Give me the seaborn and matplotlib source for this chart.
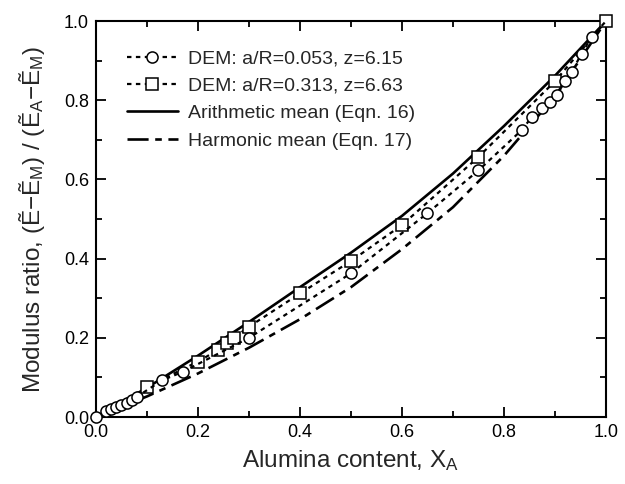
import matplotlib
matplotlib.use("Agg")
import matplotlib.pyplot as plt
import seaborn as sns
from matplotlib.ticker import MultipleLocator

# DEM: a/R = 0.053, z = 6.15 (circles)
x_dem1 = [0.0, 0.02, 0.03, 0.04, 0.05, 0.06, 0.07, 0.08, 0.13, 0.17, 0.30, 0.50,
          0.65, 0.75, 0.835, 0.854, 0.874, 0.89, 0.904, 0.92, 0.933, 0.952, 0.972, 1.0]
y_dem1 = [0.0, 0.014, 0.020, 0.025, 0.030, 0.036, 0.043, 0.051, 0.093, 0.114, 0.200, 0.363,
          0.515, 0.623, 0.725, 0.757, 0.780, 0.796, 0.813, 0.848, 0.872, 0.918, 0.960, 1.0]

# DEM: a/R = 0.313, z = 6.63 (squares)
x_dem2 = [0.0, 0.10, 0.20, 0.24, 0.256, 0.27, 0.30, 0.40, 0.50, 0.60, 0.75, 0.90, 1.0]
y_dem2 = [0.0, 0.076, 0.140, 0.170, 0.186, 0.200, 0.228, 0.312, 0.394, 0.485, 0.657, 0.848, 1.0]

# Arithmetic (Eqn. 16) and harmonic (Eqn. 17) means
x_mean = [0.0, 0.1, 0.2, 0.3, 0.4, 0.5, 0.6, 0.7, 0.8, 0.9, 1.0]
y_arith = [0.0, 0.074, 0.155, 0.240, 0.328, 0.415, 0.508, 0.615, 0.735, 0.862, 1.0]
y_harm = [0.0, 0.052, 0.110, 0.175, 0.247, 0.328, 0.424, 0.530, 0.660, 0.810, 1.0]

labels = ["DEM: a/R=0.053, z=6.15", "DEM: a/R=0.313, z=6.63",
          "Arithmetic mean (Eqn. 16)", "Harmonic mean (Eqn. 17)"]
xticks = [0.0, 0.2, 0.4, 0.6, 0.8, 1.0]

sns.set_style("ticks")
plt.rcParams['font.family'] = ['Liberation Sans', 'DejaVu Sans']
plt.rcParams['mathtext.fontset'] = 'custom'
plt.rcParams['mathtext.rm'] = 'Liberation Sans'
plt.rcParams['mathtext.it'] = 'Liberation Sans'

fig = plt.figure(figsize=(6.25, 4.84), dpi=100)
ax = fig.add_axes([0.1536, 0.1384, 0.816, 0.818])

sns.lineplot(x=x_mean, y=y_arith, ax=ax, sort=False, estimator=None, color='black',
             lw=1.9, label=labels[2], zorder=2)
sns.lineplot(x=x_mean, y=y_harm, ax=ax, sort=False, estimator=None, color='black',
             lw=1.9, linestyle=(0, (8, 2.5, 2.5, 2.5)), label=labels[3], zorder=2)
sns.lineplot(x=x_dem2, y=y_dem2, ax=ax, sort=False, estimator=None, color='black',
             lw=1.6, linestyle=(0, (2, 2)), marker='s', markersize=8.5,
             markerfacecolor='white', markeredgecolor='black', markeredgewidth=1.1,
             markevery=list(range(1, len(x_dem2))),
             label=labels[1], zorder=3, clip_on=False)
sns.lineplot(x=x_dem1, y=y_dem1, ax=ax, sort=False, estimator=None, color='black',
             lw=1.6, linestyle=(0, (2, 2)), marker='o', markersize=8,
             markerfacecolor='white', markeredgecolor='black', markeredgewidth=1.1,
             markevery=list(range(0, len(x_dem1) - 1)),
             label=labels[0], zorder=3, clip_on=False)

ax.set_xlim(0, 1)
ax.set_ylim(0, 1)
ax.set_xticks(xticks)
ax.set_yticks(xticks)
ax.set_xticklabels([f"{t:.1f}" for t in xticks])
ax.set_yticklabels([f"{t:.1f}" for t in xticks])
ax.xaxis.set_minor_locator(MultipleLocator(0.1))
ax.yaxis.set_minor_locator(MultipleLocator(0.1))
ax.tick_params(which='both', direction='in', top=True, right=True, width=1.3, colors='black')
ax.tick_params(which='major', length=7, labelsize=13, pad=5)
ax.tick_params(which='minor', length=4)
for s in ax.spines.values():
    s.set_linewidth(1.5)
    s.set_color('black')

ax.set_xlabel('Alumina content, X$_\\mathregular{A}$', fontsize=17.5, labelpad=5)
ax.set_ylabel('Modulus ratio, (Ẽ−Ẽ$_\\mathregular{M}$) / (Ẽ$_\\mathregular{A}$−Ẽ$_\\mathregular{M}$)',
              fontsize=17.5, labelpad=12)

h, l = ax.get_legend_handles_labels()
order = [l.index(s) for s in labels]
leg = ax.legend([h[i] for i in order], [l[i] for i in order], loc='upper left',
                bbox_to_anchor=(0.061, 0.927), borderaxespad=0, borderpad=0, frameon=False,
                fontsize=14, handlelength=2.6, handletextpad=0.55, labelspacing=0.5)
leg.set_zorder(5)

fig.savefig('out.png', dpi=100)
